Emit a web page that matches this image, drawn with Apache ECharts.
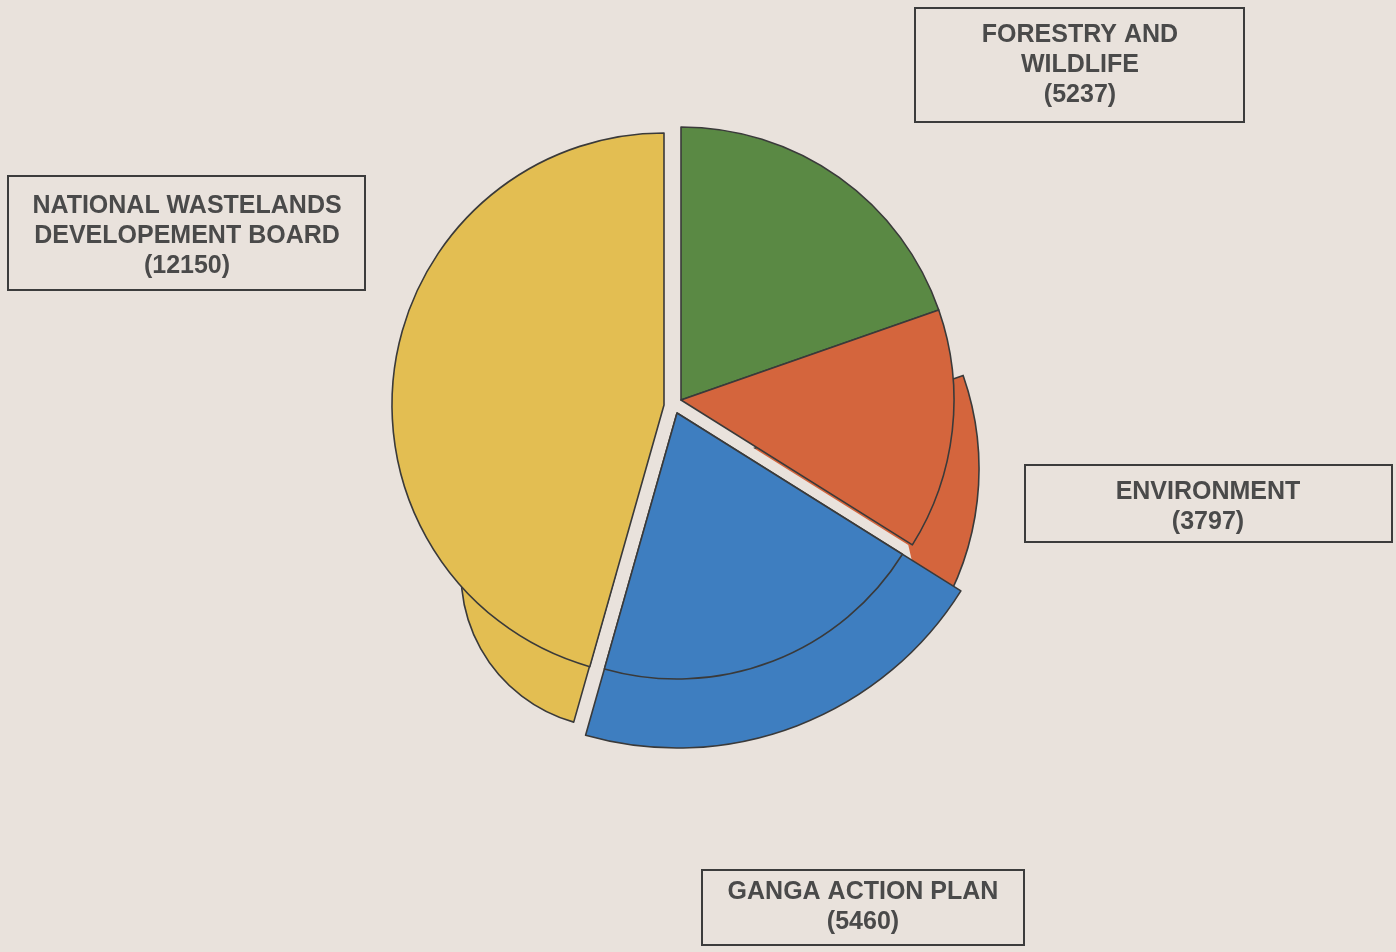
<!DOCTYPE html>
<html>
<head>
<meta charset="utf-8">
<script src="https://cdn.jsdelivr.net/npm/echarts@6/dist/echarts.min.js"></script>
<style>
  html, body { margin: 0; padding: 0; background: #e9e2dc; }
  #chart { width: 1396px; height: 952px; }
</style>
</head>
<body>
<div id="chart"></div>
<script>
// ---- data ----
const categories = ['FORESTRY AND\nWILDLIFE', 'ENVIRONMENT', 'GANGA ACTION PLAN', 'NATIONAL WASTELANDS\nDEVELOPEMENT BOARD'];
const values = [5237, 3797, 5460, 12150];

// ---- style ----
const bg = '#e9e2dc';
const colors = ['#5a8944', '#d4653d', '#3e7ec0', '#e3be52'];
const outline = '#3a3a3a';
const tops = [
  { center: [681, 400], radius: 273 },
  { center: [681, 400], radius: 273 },
  { center: [677, 413], radius: 266 },
  { center: [664, 405], radius: 272 }
];
// side ("depth") faces: slice index -> centre and radius
const sides = [
  { idx: 3, center: [616, 573], radius: 155 },
  { idx: 1, center: [695, 469], radius: 284 },
  { idx: 2, center: [677, 413], radius: 335 }
];
const boxes = [
  { x: 915, y: 8, w: 329, h: 114, tx: 1080, ty: 20 },
  { x: 1025, y: 465, w: 367, h: 77, tx: 1208, ty: 477 },
  { x: 702, y: 870, w: 322, h: 75, tx: 863, ty: 877 },
  { x: 8, y: 176, w: 357, h: 114, tx: 187, ty: 191 }
];

function sliceSeries(idx, center, radius, style) {
  return {
    type: 'pie',
    center: center,
    radius: [0, radius],
    startAngle: 90,
    clockwise: true,
    silent: true,
    animation: false,
    avoidLabelOverlap: false,
    label: { show: false },
    labelLine: { show: false },
    emphasis: { disabled: true },
    data: values.map((v, j) => ({
      name: categories[j],
      value: v,
      itemStyle: j === idx ? style : { color: 'rgba(0,0,0,0)', borderWidth: 0 }
    }))
  };
}
const faceStyle = i => ({ color: colors[i], borderColor: outline, borderWidth: 1.6 });

const series = [];
// yellow and orange sides
series.push(sliceSeries(sides[0].idx, sides[0].center, sides[0].radius, faceStyle(sides[0].idx)));
series.push(sliceSeries(sides[1].idx, sides[1].center, sides[1].radius, faceStyle(sides[1].idx)));
// background-coloured halo around the Ganga top face keeps the gaps open
series.push(sliceSeries(2, tops[2].center, tops[2].radius,
  { color: bg, borderColor: bg, borderWidth: 22, borderJoin: 'bevel' }));
// Ganga side
series.push(sliceSeries(sides[2].idx, sides[2].center, sides[2].radius, faceStyle(sides[2].idx)));
// top faces
values.forEach((v, i) => series.push(sliceSeries(i, tops[i].center, tops[i].radius, faceStyle(i))));

const graphics = [];
categories.forEach((c, i) => {
  const b = boxes[i];
  graphics.push({
    type: 'rect',
    shape: { x: b.x, y: b.y, width: b.w, height: b.h },
    style: { fill: 'none', stroke: '#3c3c3c', lineWidth: 2 },
    silent: true
  });
  graphics.push({
    type: 'text',
    x: b.tx, y: b.ty,
    style: {
      text: c + '\n(' + values[i] + ')',
      font: 'bold 25px "Liberation Sans", Arial, sans-serif',
      fill: '#4a4a4a',
      align: 'center',
      verticalAlign: 'top',
      lineHeight: 30
    },
    silent: true
  });
});

const chart = echarts.init(document.getElementById('chart'), null, { renderer: 'canvas' });
chart.setOption({
  backgroundColor: bg,
  animation: false,
  series: series,
  graphic: graphics
});
</script>
</body>
</html>
